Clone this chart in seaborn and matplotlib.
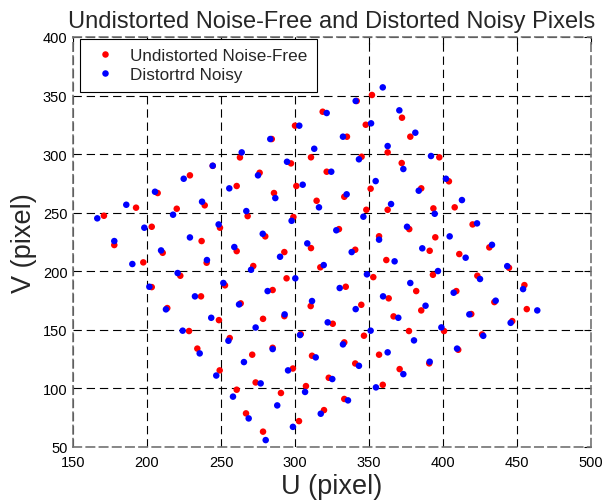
import numpy as np
import pandas as pd
import matplotlib
matplotlib.use("Agg")
import matplotlib.pyplot as plt
import seaborn as sns

# Undistorted noise-free pixels (U, V)
red_u = [352.0, 300.0, 284.3, 262.8, 310.8, 297.3, 244.4, 229.0, 276.1, 207.2, 260.6, 285.8, 300.9,
         220.1, 239.0, 268.0, 298.9, 314.6, 341.7, 318.7, 372.3, 347.8, 335.1, 377.9, 362.6, 345.0,
         397.5, 372.1, 321.4, 351.1, 385.3, 404.0, 333.3, 407.9, 362.6, 348.2, 393.5, 203.2, 249.3,
         279.9, 236.9, 210.6, 260.6, 310.8, 292.8, 240.3, 197.5, 271.8, 317.1, 222.5, 252.7, 294.3,
         203.2, 284.9, 236.5, 310.6, 213.7, 263.3, 248.6, 278.4, 292.8, 228.4, 303.9, 255.9, 234.0,
         284.9, 329.7, 377.2, 420.0, 356.8, 394.8, 340.7, 391.0, 411.0, 361.7, 352.9, 393.2, 423.2,
         334.3, 381.9, 409.0, 363.3, 344.8, 385.3, 366.6, 419.1, 325.5, 346.6, 377.0, 400.7, 333.3,
         410.3, 431.3, 444.6, 455.0, 434.7, 456.6, 446.8, 426.4, 271.1, 311.5, 340.7, 249.1, 298.6,
         273.4, 322.8, 260.6, 290.5, 307.4, 333.3, 266.9, 319.6, 302.7, 278.4, 356.8, 390.7, 370.7,
         359.3, 192.6, 170.9, 177.9]
red_v = [350.5, 324.3, 312.9, 297.2, 297.3, 292.1, 290.0, 281.9, 284.1, 266.8, 272.8, 266.8, 272.8,
         253.4, 256.3, 247.1, 246.3, 260.2, 345.4, 336.2, 331.1, 325.1, 314.9, 314.9, 301.5, 297.8,
         297.3, 292.4, 285.0, 270.5, 270.8, 276.8, 263.6, 254.6, 252.5, 252.5, 253.7, 238.0, 237.2,
         229.8, 225.8, 215.8, 217.2, 219.8, 216.4, 207.3, 207.6, 204.5, 203.4, 196.2, 188.0, 194.0,
         186.5, 184.0, 178.6, 170.3, 168.6, 172.6, 158.3, 159.4, 161.7, 149.0, 146.4, 143.0, 134.0,
         134.7, 236.0, 236.0, 240.0, 229.9, 229.0, 218.4, 217.5, 214.7, 209.6, 195.0, 197.0, 196.2,
         186.8, 183.1, 183.1, 176.9, 171.4, 166.6, 161.5, 163.5, 155.2, 145.0, 149.0, 149.0, 139.3,
         133.0, 220.4, 203.0, 188.2, 173.7, 167.7, 157.5, 146.1, 128.8, 127.9, 121.3, 115.4, 117.0,
         105.1, 109.1, 98.9, 96.1, 102.0, 91.0, 78.7, 81.5, 72.1, 63.1, 128.8, 121.4, 116.5,
         103.1, 254.3, 247.4, 222.4]

# Distorted noisy pixels (U, V)
blue_u = [359.3, 302.9, 283.3, 264.0, 313.0, 294.6, 244.4, 224.8, 275.0, 205.4, 255.6, 286.7, 305.2,
          217.6, 237.2, 267.1, 297.7, 316.2, 341.0, 321.4, 370.5, 351.4, 332.4, 381.3, 362.6, 343.2,
          391.9, 373.2, 324.5, 354.5, 383.6, 402.0, 334.9, 412.8, 364.9, 346.2, 394.4, 198.2, 248.4,
          278.2, 229.0, 209.5, 259.0, 308.3, 289.9, 240.5, 190.1, 270.3, 319.4, 220.7, 251.6, 300.2,
          201.6, 281.5, 232.4, 311.5, 212.8, 262.2, 243.4, 273.4, 293.0, 224.1, 303.4, 255.0, 235.6,
          284.9, 327.9, 375.7, 423.0, 356.8, 404.5, 338.3, 386.0, 415.3, 367.3, 348.6, 396.6, 425.0,
          330.2, 377.9, 407.2, 359.5, 341.0, 388.2, 369.8, 417.8, 322.1, 351.1, 380.4, 398.9, 332.4,
          409.5, 433.1, 443.4, 454.1, 435.6, 463.7, 445.7, 427.2, 265.5, 314.0, 343.2, 246.8, 295.3,
          276.8, 325.2, 258.1, 288.0, 306.8, 335.8, 268.7, 317.4, 298.6, 280.2, 362.6, 391.0, 373.2,
          354.7, 186.0, 166.4, 177.9]
blue_v = [357.0, 324.3, 312.9, 301.5, 304.6, 293.5, 290.1, 279.0, 281.9, 267.9, 270.8, 262.5, 273.9,
          248.3, 259.4, 251.4, 243.1, 254.6, 345.4, 335.1, 337.4, 326.3, 314.9, 318.3, 306.9, 295.6,
          298.4, 287.3, 285.0, 277.0, 268.8, 279.0, 265.7, 260.8, 257.4, 246.6, 249.1, 237.2, 240.0,
          232.0, 228.9, 217.8, 220.7, 223.8, 212.4, 209.6, 206.2, 201.3, 205.3, 198.5, 190.0, 194.0,
          186.8, 183.1, 178.6, 174.6, 167.5, 171.7, 160.3, 152.0, 163.2, 149.3, 145.6, 140.7, 129.9,
          133.6, 235.0, 238.0, 240.9, 227.0, 229.8, 216.4, 219.6, 211.6, 208.5, 197.4, 200.2, 193.4,
          185.7, 190.0, 181.7, 178.6, 167.7, 170.6, 160.3, 163.2, 156.4, 149.3, 141.0, 152.1, 137.6,
          134.0, 222.6, 204.4, 184.8, 174.9, 166.6, 156.0, 144.9, 122.5, 126.5, 119.3, 111.0, 115.4,
          104.3, 108.0, 93.0, 85.5, 97.0, 89.8, 74.4, 78.4, 67.2, 55.9, 130.8, 122.8, 112.2,
          100.9, 256.8, 245.2, 225.8]

series_names = ["Undistorted Noise-Free", "Distortrd Noisy"]
x_ticks = [150, 200, 250, 300, 350, 400, 450, 500]
y_ticks = [50, 100, 150, 200, 250, 300, 350, 400]

df = pd.concat([
    pd.DataFrame({"U": red_u, "V": red_v, "set": series_names[0]}),
    pd.DataFrame({"U": blue_u, "V": blue_v, "set": series_names[1]}),
], ignore_index=True)

sns.set_style("white")
plt.rcParams["font.family"] = ["Liberation Sans", "DejaVu Sans"]
plt.rcParams["lines.scale_dashes"] = False

fig = plt.figure(figsize=(6.05, 5.02), dpi=100)
ax = fig.add_axes([73 / 605, 1 - 448 / 502, 518 / 605, 410 / 502])

sns.scatterplot(data=df, x="U", y="V", hue="set", hue_order=series_names,
                palette={series_names[0]: "#ff0000", series_names[1]: "#0000ff"},
                s=22, linewidth=0, ax=ax, zorder=3)

ax.set_xlim(150, 500)
ax.set_ylim(50, 400)
ax.set_xticks(x_ticks)
ax.set_yticks(y_ticks)
ax.tick_params(direction="in", top=True, right=True, length=5, width=0.8,
               labelsize=10.5, colors="black")
ax.tick_params(axis="x", pad=6)
ax.tick_params(axis="y", pad=4)
ax.grid(True, color="black", linestyle=(0, (6, 3.5)), linewidth=0.8)
for sp in ax.spines.values():
    sp.set_color("0.45")
    sp.set_linewidth(1.2)
    sp.set_linestyle((0, (6, 3.5)))

ax.set_title("Undistorted Noise-Free and Distorted Noisy Pixels", fontsize=17, pad=7)
ax.set_xlabel("U (pixel)", fontsize=19.5, labelpad=3)
ax.set_ylabel("V (pixel)", fontsize=19.5, labelpad=4)

leg = ax.legend(loc="upper left", bbox_to_anchor=(0.013, 0.995), borderaxespad=0,
                fancybox=False, framealpha=1, edgecolor="black", fontsize=12.3,
                markerscale=1.0, handletextpad=0.6, borderpad=0.55, handlelength=1.8,
                labelspacing=0.22)
leg.get_frame().set_linewidth(0.8)

fig.savefig("out.png", dpi=100)
